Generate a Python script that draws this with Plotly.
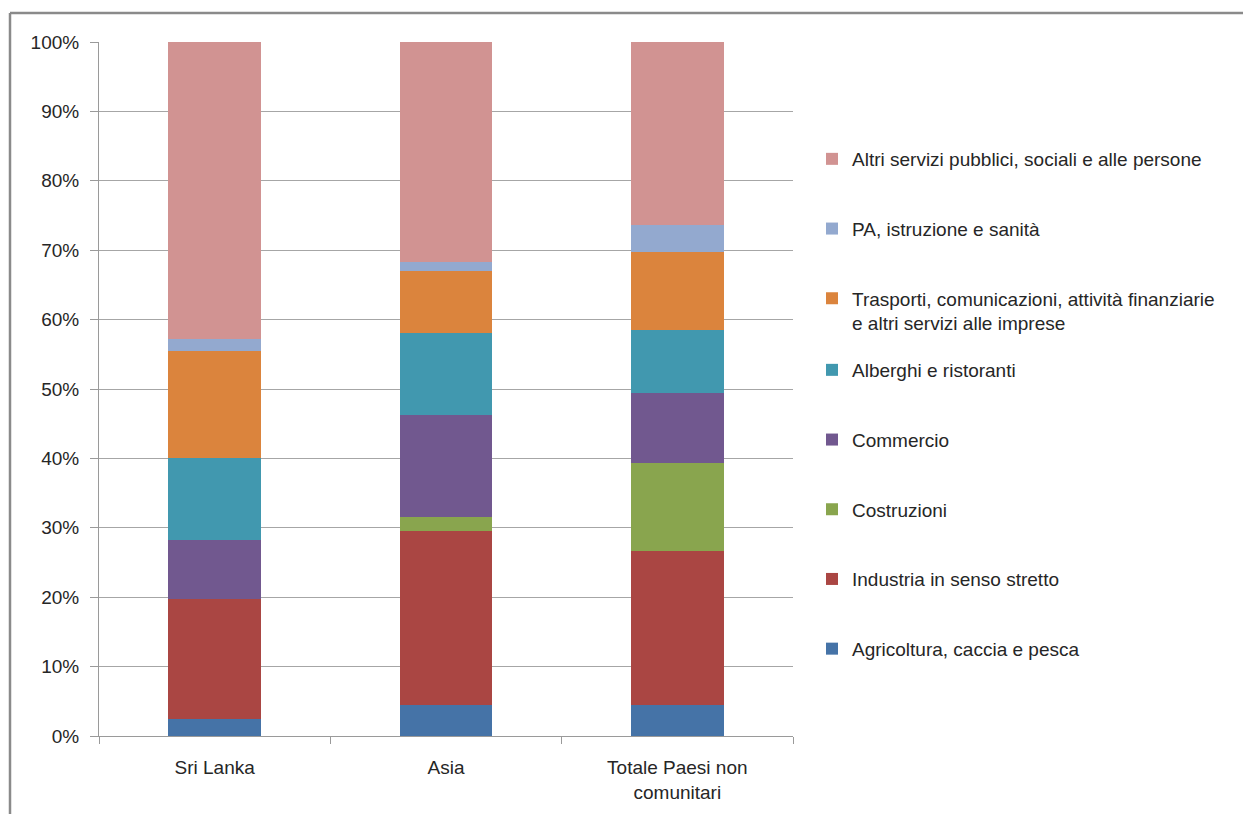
import plotly.graph_objects as go

categories = ["Sri Lanka", "Asia", "Totale Paesi non<br>comunitari"]

series_names = [
    "Agricoltura, caccia e pesca",
    "Industria in senso stretto",
    "Costruzioni",
    "Commercio",
    "Alberghi e ristoranti",
    "Trasporti, comunicazioni, attività finanziarie<br>e altri servizi alle imprese",
    "PA, istruzione e sanità",
    "Altri servizi pubblici, sociali e alle persone",
]

agricoltura = [2.45, 4.5, 4.4]
industria = [17.25, 25.0, 22.2]
costruzioni = [0.0, 2.0, 12.7]
commercio = [8.5, 14.8, 10.1]
alberghi = [11.9, 11.7, 9.1]
trasporti = [15.4, 9.0, 11.3]
pa = [1.7, 1.3, 3.8]
altri = [42.8, 31.7, 26.4]

series_values = [agricoltura, industria, costruzioni, commercio, alberghi, trasporti, pa, altri]

colors = ["#4573A7", "#AA4643", "#89A54E", "#71588F", "#4198AF", "#DB843D", "#93A9CF", "#D19392"]

tick_vals = [0, 10, 20, 30, 40, 50, 60, 70, 80, 90, 100]
tick_text = [f"{v}%" for v in tick_vals]

FONT = "Liberation Sans Narrow, Arial Narrow, Liberation Sans, Arial, sans-serif"
FS = 19
TXT = "#262626"

fig = go.Figure()
for i, (name, vals, col) in enumerate(zip(series_names, series_values, colors)):
    fig.add_trace(go.Bar(
        x=categories, y=vals, name=name, marker=dict(color=col, line=dict(width=0)),
        legendrank=100 - i,
        legendgroup=f"g{i}",
        legend="legend" if i >= 5 else "legend2",
    ))

W, H = 1243, 814
L, R, T, B = 99, 450, 42, 78
pw, ph = W - L - R, H - T - B

def px_x(x):
    return (x - L) / pw

def px_y(y):
    return (H - B - y) / ph

leg_common = dict(
    xanchor="left", yanchor="top",
    traceorder="grouped", valign="top", tracegroupgap=42,
    font=dict(family=FONT, size=FS, color=TXT),
    itemwidth=30, bgcolor="rgba(0,0,0,0)",
)

fig.update_layout(
    width=W, height=H,
    barmode="stack", bargap=0.6,
    margin=dict(l=L, r=R, t=T, b=B, autoexpand=False),
    paper_bgcolor="white", plot_bgcolor="white",
    font=dict(family=FONT, size=FS, color=TXT),
    legend=dict(x=px_x(812), y=px_y(140), **leg_common),
    legend2=dict(x=px_x(812), y=px_y(351), **leg_common),
    xaxis=dict(
        showline=True, linecolor="#9a9a9a", linewidth=1,
        ticks="outside", tickson="boundaries", ticklen=7, tickcolor="#9a9a9a",
        tickfont=dict(family=FONT, size=FS, color=TXT),
        ticklabelstandoff=14,
        showgrid=False,
    ),
    yaxis=dict(
        range=[0, 100], tickvals=tick_vals, ticktext=tick_text,
        showline=True, linecolor="#9a9a9a", linewidth=1,
        ticks="outside", ticklen=8, tickcolor="#9a9a9a",
        showgrid=True, gridcolor="#a6a6a6", gridwidth=1,
        tickfont=dict(family=FONT, size=FS, color=TXT),
        ticklabelstandoff=7,
        zeroline=False,
    ),
)

# outer chart frame (top and left edges visible)
fig.add_shape(type="line", xref="paper", yref="paper",
              x0=px_x(10), x1=px_x(W + 5), y0=px_y(13), y1=px_y(13),
              line=dict(color="#8a8a8a", width=2.5))
fig.add_shape(type="line", xref="paper", yref="paper",
              x0=px_x(10), x1=px_x(10), y0=px_y(13), y1=px_y(H + 5),
              line=dict(color="#8a8a8a", width=2.5))

fig.write_html("out.html")
